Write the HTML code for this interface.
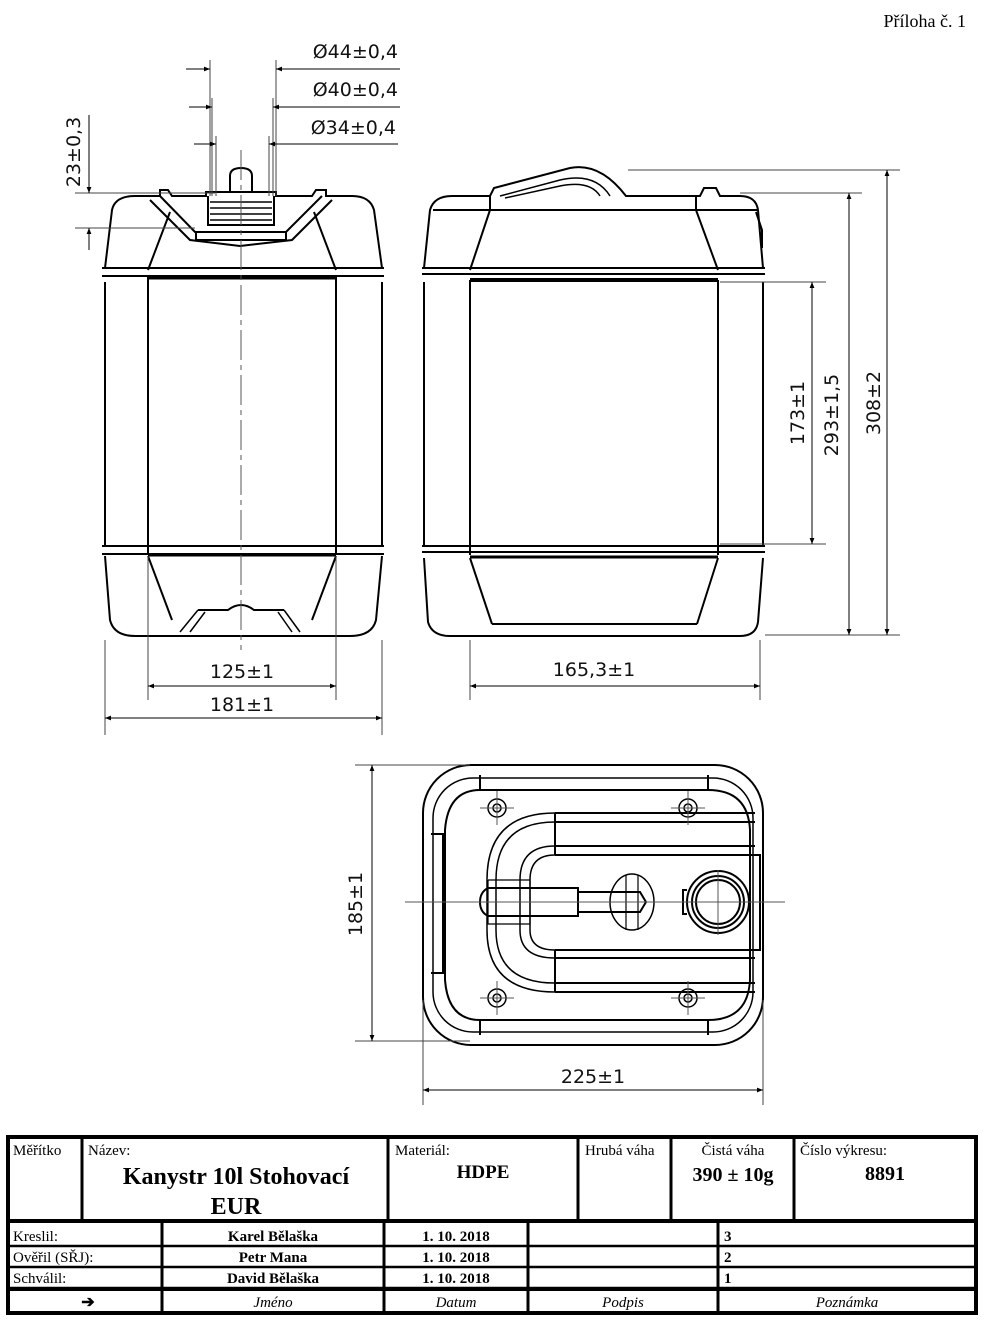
<!DOCTYPE html>
<html><head><meta charset="utf-8"><style>
html,body{margin:0;padding:0;background:#fff;}
svg{display:block;}
.t{font-family:"DejaVu Sans","Liberation Sans",sans-serif;font-size:19px;fill:#111;}
.s{font-family:"Liberation Serif",serif;fill:#000;}
</style></head><body>
<svg width="1002" height="1325" viewBox="0 0 1002 1325" xmlns="http://www.w3.org/2000/svg">
<defs>
<marker id="a" viewBox="0 0 10 10" refX="10" refY="5" markerWidth="9" markerHeight="6" orient="auto-start-reverse" markerUnits="userSpaceOnUse"><path d="M0,1 L10,5 L0,9 z" fill="#000"/></marker>
</defs>
<text x="966" y="27" class="s" font-size="18" text-anchor="end">Příloha č. 1</text>

<g stroke="#000" fill="none" stroke-width="2">
<!-- FRONT VIEW -->
<path d="M105,268 L112,210 Q115,196 135,196 L160,196 L160,190 L168,190 L172,196 L206,196 L206,192 L276,192 L276,196 L312,196 L316,190 L326,190 L326,196 L352,196 Q370,196 374,210 L382,268"/>
<path d="M105,282 L105,545 M382,282 L382,545"/>
<path d="M102,268 L384,268 M102,276 L384,276"/>
<path d="M148,278 L336,278" stroke-width="3"/>
<path d="M148,276 L148,553 M336,276 L336,553"/>
<path d="M148,270 L170,212 M336,270 L314,212"/>
<path d="M150,200 L190,240 L240,246 L292,240 L332,200"/>
<path d="M160,196 L195,232 L286,232 L322,196"/>
<path d="M196,232 L196,240 L286,240 L286,232"/>
<path d="M208,196 L208,225 L274,225 L274,196"/>
<path d="M210,202 L272,202 M210,208 L272,208 M210,214 L272,214 M210,220 L272,220" stroke-width="1.5"/>
<path d="M230,192 L230,176 Q230,168 241,168 Q252,168 252,176 L252,192"/>
<path d="M102,546 L384,546 M102,554 L384,554"/>
<path d="M148,555 L336,555" stroke-width="3"/>
<path d="M105,556 L110,620 Q114,636 135,636 L350,636 Q372,636 376,620 L382,556"/>
<path d="M148,556 L172,620 M336,556 L312,620"/>
<path d="M198,610 L228,610 Q241,600 254,610 L284,610"/>
<path d="M198,610 L180,632 M284,610 L300,632 M205,612 L190,632 M278,612 L292,632" stroke-width="1.5"/>
<!-- SIDE VIEW -->
<path d="M424,268 L430,210 Q434,196 452,196 L490,196 L494,188 L570,168 Q600,162 626,196 L700,196 L704,188 L716,188 L720,196 L740,196 Q756,196 758,210 L763,268"/>
<path d="M500,196 L560,180 Q595,172 610,196 M505,198 L560,186 Q590,180 600,196" stroke-width="1.5"/>
<path d="M490,196 L490,210 L696,210 L696,196 M433,210 L490,210 M696,210 L758,210"/>
<path d="M490,210 L470,270 M696,210 L718,270"/>
<path d="M422,268 L765,268 M422,274 L765,274"/>
<path d="M470,280 L718,280" stroke-width="4"/>
<path d="M424,282 L424,545 M763,282 L763,545 M470,280 L470,555 M718,280 L718,555"/>
<path d="M422,546 L765,546 M422,552 L765,552"/>
<path d="M470,557 L718,557" stroke-width="3"/>
<path d="M424,558 L428,622 Q432,636 450,636 L740,636 Q756,636 758,622 L763,558"/>
<path d="M470,558 L492,624 M718,558 L697,624 M492,624 L697,624"/>
<path d="M756,212 L762,230 L762,248"/>
<!-- TOP VIEW -->
<rect x="423" y="765" width="340" height="280" rx="48"/>
<rect x="433" y="778" width="320" height="254" rx="40" stroke-width="1.5"/>
<path d="M480,775 L480,790 L708,790 L708,775 M480,1035 L480,1020 L708,1020 L708,1035"/>
<path d="M480,790 Q448,790 445,830 L445,980 Q448,1020 480,1020"/>
<path d="M708,790 Q748,790 750,830 L750,980 Q748,1020 708,1020"/>
<path d="M431,834 L443,834 L443,973 L431,973"/>
<path d="M555,813 L755,813 M555,822 L755,822 M555,846 L755,846 M555,855 L755,855 M555,813 L555,855"/>
<path d="M555,950 L755,950 M555,958 L755,958 M555,983 L755,983 M555,992 L755,992 M555,950 L555,992"/>
<path d="M555,813 Q487,813 487,880 L487,930 Q487,992 555,992" stroke-width="1.5"/>
<path d="M555,822 Q496,822 496,880 L496,930 Q496,983 555,983" stroke-width="1.5"/>
<path d="M555,846 Q520,846 520,880 L520,930 Q520,958 555,958" stroke-width="1.5"/>
<path d="M555,855 Q530,855 530,880 L530,930 Q530,950 555,950" stroke-width="1.5"/>
<path d="M755,855 L760,855 L760,950 L755,950"/>
<path d="M488,888 L578,888 L578,916 L488,916 Q480,912 480,902 Q480,892 488,888 Z"/>
<path d="M578,892 L640,892 L646,902 L640,912 L578,912"/>
<path d="M488,880 L530,880 L530,924 L488,924 L488,880" stroke-width="1.2"/>
<ellipse cx="632" cy="902" rx="22" ry="28" stroke-width="1.5"/>
<path d="M626,875 L626,930 M638,875 L638,930" stroke-width="1.2"/>
<circle cx="718" cy="902" r="31"/>
<circle cx="718" cy="902" r="26"/>
<circle cx="718" cy="902" r="22"/>
<path d="M687,890 L683,890 L683,914 L687,914"/>
<g stroke-width="1.5">
<circle cx="497" cy="808" r="9"/><circle cx="497" cy="808" r="4"/>
<circle cx="688" cy="808" r="9"/><circle cx="688" cy="808" r="4"/>
<circle cx="497" cy="998" r="9"/><circle cx="497" cy="998" r="4"/>
<circle cx="688" cy="998" r="9"/><circle cx="688" cy="998" r="4"/>
</g>
</g>

<!-- center/thin lines -->
<g stroke="#555" stroke-width="1" fill="none">
<path d="M241,150 L241,650" stroke-dasharray="30,5,5,5"/>
<path d="M405,902 L785,902" />
<path d="M482,902 L640,902" stroke-dasharray="8,4"/>
<path d="M718,870 L718,935"/>
<path d="M480,808 L514,808 M497,791 L497,825 M671,808 L705,808 M688,791 L688,825 M480,998 L514,998 M497,981 L497,1015 M671,998 L705,998 M688,981 L688,1015"/>
</g>

<!-- dimensions -->
<g stroke="#000" stroke-width="1" fill="none">
<!-- top diameters -->
<path d="M210,60 L210,196 M276,60 L276,196 M212,98 L212,196 M273,98 L273,196 M216,136 L216,196 M269,136 L269,196" stroke="#444"/>
<path d="M186,69 L210,69" marker-end="url(#a)"/><path d="M400,69 L276,69" marker-end="url(#a)"/>
<path d="M189,107 L212,107" marker-end="url(#a)"/><path d="M400,107 L273,107" marker-end="url(#a)"/>
<path d="M194,144 L216,144" marker-end="url(#a)"/><path d="M398,144 L269,144" marker-end="url(#a)"/>
<!-- 23 -->
<path d="M75,193 L215,193 M75,228 L195,228" stroke="#444"/>
<path d="M89,115 L89,193" marker-end="url(#a)"/><path d="M89,250 L89,228" marker-end="url(#a)"/>
<!-- bottom front -->
<path d="M148,556 L148,700 M336,556 L336,700 M105,640 L105,735 M382,640 L382,735" stroke="#444"/>
<path d="M148,686 L336,686" marker-start="url(#a)" marker-end="url(#a)"/>
<path d="M105,718 L382,718" marker-start="url(#a)" marker-end="url(#a)"/>
<!-- side bottom -->
<path d="M470,640 L470,700 M760,640 L760,700" stroke="#444"/>
<path d="M470,686 L760,686" marker-start="url(#a)" marker-end="url(#a)"/>
<!-- verticals -->
<path d="M628,170 L900,170 M740,193 L862,193 M720,282 L826,282 M720,544 L826,544 M765,635 L900,635" stroke="#444"/>
<path d="M887,170 L887,635" marker-start="url(#a)" marker-end="url(#a)"/>
<path d="M849,193 L849,635" marker-start="url(#a)" marker-end="url(#a)"/>
<path d="M812,282 L812,544" marker-start="url(#a)" marker-end="url(#a)"/>
<!-- top view dims -->
<path d="M355,765 L470,765 M355,1041 L470,1041 M423,1000 L423,1105 M763,1000 L763,1105" stroke="#444"/>
<path d="M372,765 L372,1041" marker-start="url(#a)" marker-end="url(#a)"/>
<path d="M423,1090 L763,1090" marker-start="url(#a)" marker-end="url(#a)"/>
</g>

<g class="t">
<text x="398" y="58" text-anchor="end">Ø44±0,4</text>
<text x="398" y="96" text-anchor="end">Ø40±0,4</text>
<text x="396" y="134" text-anchor="end">Ø34±0,4</text>
<text x="242" y="678" text-anchor="middle">125±1</text>
<text x="242" y="711" text-anchor="middle">181±1</text>
<text x="594" y="676" text-anchor="middle">165,3±1</text>
<text x="593" y="1083" text-anchor="middle">225±1</text>
<text transform="translate(80,152) rotate(-90)" text-anchor="middle">23±0,3</text>
<text transform="translate(804,413) rotate(-90)" text-anchor="middle">173±1</text>
<text transform="translate(838,415) rotate(-90)" text-anchor="middle">293±1,5</text>
<text transform="translate(880,403) rotate(-90)" text-anchor="middle">308±2</text>
<text transform="translate(362,904) rotate(-90)" text-anchor="middle">185±1</text>
</g>

<!-- TITLE BLOCK -->
<g stroke="#000" fill="none">
<rect x="8" y="1137" width="968" height="176" stroke-width="4"/>
<path d="M8,1221 L976,1221" stroke-width="4"/>
<path d="M82,1137 L82,1221 M388,1137 L388,1221 M578,1137 L578,1221 M671,1137 L671,1221 M794,1137 L794,1221" stroke-width="3"/>
<path d="M8,1246 L976,1246 M8,1267 L976,1267 M8,1288 L976,1288" stroke-width="2.5"/>
<path d="M8,1290 L976,1290" stroke-width="2"/>
<path d="M162,1221 L162,1313 M384,1221 L384,1313 M528,1221 L528,1313 M718,1221 L718,1313" stroke-width="3"/>
</g>
<g class="s">
<text x="13" y="1155" font-size="15">Měřítko</text>
<text x="88" y="1155" font-size="15">Název:</text>
<text x="236" y="1184" font-size="24" font-weight="bold" text-anchor="middle">Kanystr 10l Stohovací</text>
<text x="236" y="1214" font-size="24" font-weight="bold" text-anchor="middle">EUR</text>
<text x="395" y="1155" font-size="15">Materiál:</text>
<text x="483" y="1178" font-size="19" font-weight="bold" text-anchor="middle">HDPE</text>
<text x="585" y="1155" font-size="15">Hrubá váha</text>
<text x="733" y="1155" font-size="15" text-anchor="middle">Čistá váha</text>
<text x="733" y="1181" font-size="20" font-weight="bold" text-anchor="middle">390 ± 10g</text>
<text x="800" y="1155" font-size="15">Číslo výkresu:</text>
<text x="885" y="1180" font-size="20" font-weight="bold" text-anchor="middle">8891</text>
<text x="13" y="1241" font-size="15">Kreslil:</text>
<text x="13" y="1262" font-size="15">Ověřil (SŘJ):</text>
<text x="13" y="1283" font-size="15">Schválil:</text>
<text x="273" y="1241" font-size="15" font-weight="bold" text-anchor="middle">Karel Bělaška</text>
<text x="273" y="1262" font-size="15" font-weight="bold" text-anchor="middle">Petr Mana</text>
<text x="273" y="1283" font-size="15" font-weight="bold" text-anchor="middle">David Bělaška</text>
<text x="456" y="1241" font-size="15" font-weight="bold" text-anchor="middle">1. 10. 2018</text>
<text x="456" y="1262" font-size="15" font-weight="bold" text-anchor="middle">1. 10. 2018</text>
<text x="456" y="1283" font-size="15" font-weight="bold" text-anchor="middle">1. 10. 2018</text>
<text x="724" y="1241" font-size="15" font-weight="bold">3</text>
<text x="724" y="1262" font-size="15" font-weight="bold">2</text>
<text x="724" y="1283" font-size="15" font-weight="bold">1</text>
<text x="88" y="1307" font-size="16" font-weight="bold" text-anchor="middle">➔</text>
<text x="273" y="1307" font-size="15" font-style="italic" text-anchor="middle">Jméno</text>
<text x="456" y="1307" font-size="15" font-style="italic" text-anchor="middle">Datum</text>
<text x="623" y="1307" font-size="15" font-style="italic" text-anchor="middle">Podpis</text>
<text x="847" y="1307" font-size="15" font-style="italic" text-anchor="middle">Poznámka</text>
</g>
</svg>
</body></html>
